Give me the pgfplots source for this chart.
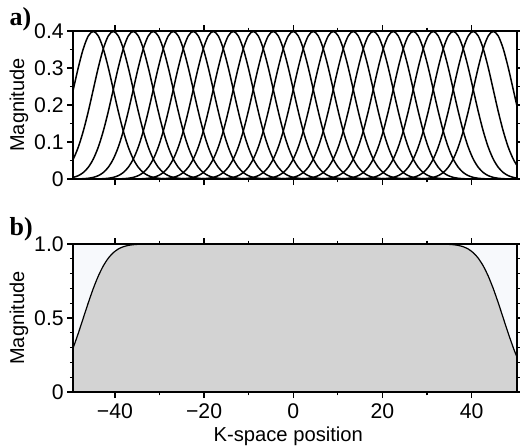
\documentclass[border=0pt]{standalone}
\usepackage{pgfplots}
\pgfplotsset{compat=1.18}
\usepackage{pgfplotstable}
\usepackage{fontspec}
\setmainfont{Liberation Sans}
\newfontfamily\labelserif{Liberation Serif}
\definecolor{fillgray}{RGB}{211,211,211}
\definecolor{bglight}{RGB}{247,249,252}

% shape of one gaussian: offset from its centre, magnitude
\pgfplotstableread{
dx g
-17.940 0.00013
-16.819 0.00035
-15.698 0.00087
-14.576 0.00203
-13.455 0.00443
-12.334 0.00909
-11.213 0.01753
-10.091 0.03174
-8.970 0.05399
-7.849 0.08628
-6.728 0.12952
-5.606 0.18265
-4.485 0.24197
-3.364 0.30114
-2.243 0.35207
-1.121 0.38667
0.000 0.39894
1.121 0.38667
2.243 0.35207
3.364 0.30114
4.485 0.24197
5.606 0.18265
6.728 0.12952
7.849 0.08628
8.970 0.05399
10.091 0.03174
11.213 0.01753
12.334 0.00909
13.455 0.00443
14.576 0.00203
15.698 0.00087
16.819 0.00035
17.940 0.00013
}\gauss

% summed profile
\pgfplotstableread{
x s
-49.335 0.3005
-48.214 0.3969
-47.093 0.5000
-45.971 0.6031
-44.850 0.6995
-43.729 0.7835
-42.608 0.8521
-41.486 0.9043
-40.365 0.9415
-39.244 0.9662
-38.123 0.9816
-37.001 0.9906
-35.880 0.9954
-34.759 0.9979
-33.638 0.9991
-32.516 0.9996
-31.395 0.9999
-20.000 1.0000
0.000 1.0000
20.000 1.0000
31.395 0.9999
32.516 0.9996
33.638 0.9991
34.759 0.9979
35.880 0.9954
37.001 0.9906
38.123 0.9816
39.244 0.9662
40.365 0.9415
41.486 0.9043
42.608 0.8521
43.729 0.7835
44.850 0.6995
45.971 0.6031
47.093 0.5000
48.214 0.3969
49.335 0.3005
49.784 0.2652
50.250 0.2308
}\sumtab

\begin{document}
\begin{tikzpicture}
\pgfplotsset{
  common/.style={
    scale only axis, width=222pt, height=74pt,
    xmin=-49.335, xmax=50.25,
    tick align=outside,
    major tick length=3pt, minor tick length=1.7pt,
    every tick/.style={black, line width=0.6pt},
    axis line style={line width=1pt},
    xtick={-40,-20,0,20,40},
    minor xtick={-30,-10,10,30},
    /pgf/number format/assume math mode=true,
    tick label style={font=\fontsize{10.6}{12}\selectfont},
    yticklabel style={inner sep=0pt, xshift=-1.6pt},
    xticklabel style={inner sep=2.6pt},
    every axis y label/.style={at={([xshift=-27.15pt]axis description cs:0,0.5)}, rotate=90, anchor=center, font=\fontsize{10}{12}\selectfont},
    every axis x label/.style={at={([xshift=-3.5pt,yshift=-24.9pt]axis description cs:0.5,0)}, anchor=base, font=\fontsize{10.1}{12}\selectfont},
    axis on top,
  }
}
\begin{axis}[common, at={(0,0)}, anchor=south west,
  ymin=0, ymax=0.4,
  ytick={0,0.1,0.2,0.3,0.4}, yticklabels={0,0.1,0.2,0.3,0.4},
  minor ytick={0.05,0.15,0.25,0.35},
  xticklabels={},
  ylabel={Magnitude}]
\pgfplotsinvokeforeach{-44.85,-40.365,-35.88,-31.395,-26.91,-22.425,-17.94,-13.455,-8.97,-4.485,0,4.485,8.97,13.455,17.94,22.425,26.91,31.395,35.88,40.365,44.85}{
  \addplot[black, line width=0.75pt, smooth] table[x expr=\thisrow{dx}+(#1), y=g]{\gauss};
}
\end{axis}
\begin{axis}[common, at={(0,-106.5pt)}, anchor=south west,
  ymin=0, ymax=1,
  axis background/.style={fill=bglight},
  ytick={0,0.5,1}, yticklabels={0,0.5,1.0},
  minor ytick={0.1,0.2,0.3,0.4,0.6,0.7,0.8,0.9},
  xticklabels={−40,−20,0,20,40},
  xlabel={K-space position},
  ylabel={Magnitude}]
\addplot[draw=none, fill=fillgray] table[x=x, y=s]{\sumtab} \closedcycle;
\addplot[black, line width=0.6pt, smooth, tension=0.4] table[x=x, y=s]{\sumtab};
\end{axis}
\node[anchor=base west, inner sep=0pt, font=\labelserif\bfseries\fontsize{13}{14}\selectfont] at (-32pt,77pt) {a)};
\node[anchor=base west, inner sep=0pt, font=\labelserif\bfseries\fontsize{13}{14}\selectfont] at (-32pt,-28pt) {b)};
\pgfresetboundingbox
\path[use as bounding box] (-36.65pt,89.5pt) rectangle (223.35pt,-134pt);
\end{tikzpicture}
\end{document}
